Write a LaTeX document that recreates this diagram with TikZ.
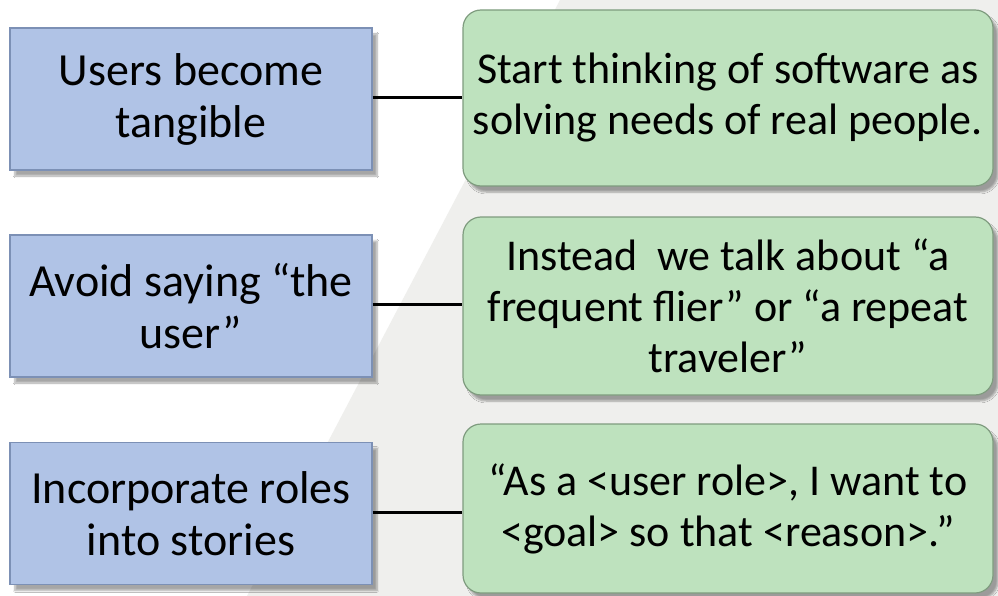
\documentclass[tikz,border=0pt]{standalone}
\usepackage{fontspec}
\setmainfont{Carlito}
\usetikzlibrary{shadows.blur}

\definecolor{rolefill}{HTML}{B0C3E6}
\definecolor{roledraw}{HTML}{7C90B5}
\definecolor{notefill}{HTML}{BEE2BE}
\definecolor{notedraw}{HTML}{7F9C7F}
\definecolor{markgray}{HTML}{EFEFED}

\begin{document}
\begin{tikzpicture}[x=1pt, y=-1pt]
    \tikzstyle{every node}=[font=\fontsize{46}{52}\selectfont, align=center, inner sep=0]
    \tikzstyle{role}=[draw=roledraw, line width=1.2pt, fill=rolefill, minimum width=362pt, minimum height=142pt,
        blur shadow={shadow xshift=5pt, shadow yshift=-6pt, shadow opacity=35, shadow blur steps=6}]
    \tikzstyle{note}=[draw=notedraw, line width=1.2pt, fill=notefill, rounded corners=18pt, minimum width=530pt,
        font=\fontsize{44}{51}\selectfont,
        blur shadow={shadow xshift=5pt, shadow yshift=-6pt, shadow opacity=35, shadow blur steps=6}]
    \tikzstyle{link}=[line width=3pt, black]
    % page and faint backdrop
    \useasboundingbox (0,0) rectangle (998,596);
    \fill[white] (0,0) rectangle (998,596);
    \fill[markgray] (247,596) -- (560,0) -- (998,0) -- (998,596) -- cycle;
    % left column
    \node[role] (users) at (191,99) {Users become\\tangible};
    \node[role] (saying) at (191,306) {Avoid saying ``the\\user''};
    \node[role] (roles) at (191,513.5) {Incorporate roles\\into stories};
    % right column
    \node[note, minimum height=176pt] (people) at (728,98) {Start thinking of software as\\solving needs of real people.};
    \node[note, minimum height=178pt] (flier) at (728,306) {Instead\ \ we talk about ``a\\frequent flier'' or ``a repeat\\traveler''};
    \node[note, minimum height=169pt] (story) at (728,508.5) {``As a <user role>, I want to\\<goal> so that <reason>.''};
    \draw[link] (users.east |- 0,98) -- (people.west |- 0,98);
    \draw[link] (saying.east |- 0,304) -- (flier.west |- 0,304);
    \draw[link] (roles.east |- 0,512) -- (story.west |- 0,512);
\end{tikzpicture}
\end{document}
